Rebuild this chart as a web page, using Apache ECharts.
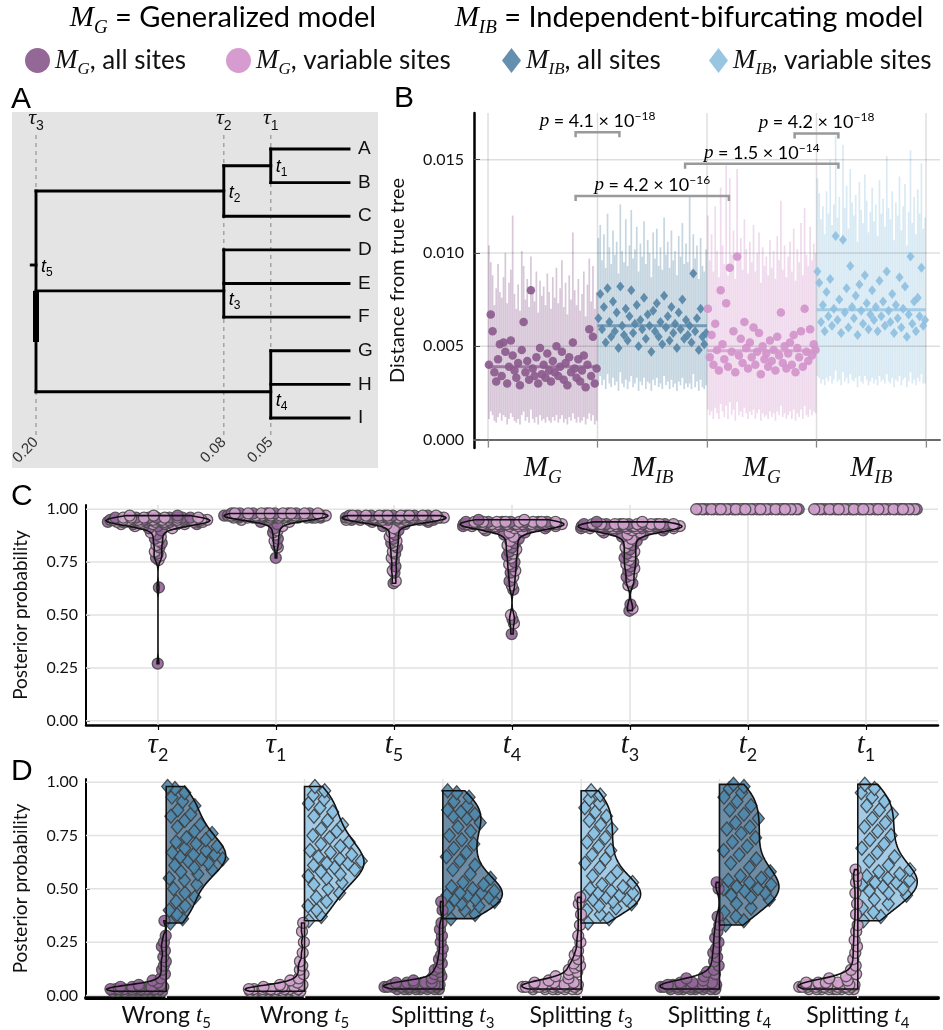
<!DOCTYPE html>
<html><head><meta charset="utf-8">
<script src="https://cdn.jsdelivr.net/npm/echarts@6.0.0/dist/echarts.min.js"></script>
<style>html,body{margin:0;padding:0;background:#fff;}#chart{width:943px;height:1030px;}</style>
</head><body><div id="chart"></div>
<script>
// ====================== DATA ======================
// ---- Panel A: tree ----
const tipNames = ['A','B','C','D','E','F','G','H','I'];
const nodeNames = ['t1','t2','t3','t4','t5'];
const nodeTimes = [0.05, 0.08, 0.08, 0.05, 0.20];
const nodeY = [0.5, 1.25, 4.22, 7.22, 3.45];
const nodeChildren = [['A','B'], ['t1','C'], ['D','E','F'], ['G','H','I'], ['t2','t3','t4']];
const tauTimes = [0.20, 0.08, 0.05];
const tauIndex = ['3','2','1'];
const rootStem = 0.003;
const rootThickSpan = [4.22, 5.74];

// ---- Panel B: distance from true tree ----
const bGroupLabels = ['G','IB','G','IB'];
const bMGAllMid = [0.0040,0.0067,0.0058,0.0036,0.0031,0.0043,0.0051,0.0034,0.0052,0.0047,0.0030,0.0039,0.0053,0.0045,0.0037,0.0033,0.0041,0.0029,0.0048,0.0063,0.0036,0.0042,0.0032,0.0080,0.0038,0.0034,0.0044,0.0030,0.0049,0.0035,0.0040,0.0033,0.0046,0.0037,0.0031,0.0042,0.0036,0.0050,0.0034,0.0039,0.0047,0.0032,0.0041,0.0029,0.0044,0.0036,0.0052,0.0038,0.0033,0.0043,0.0031,0.0037,0.0045,0.0028,0.0040,0.0059,0.0034,0.0055,0.0030,0.0038];
const bMGAllHi = [0.0104,0.0095,0.0088,0.0072,0.0081,0.0094,0.0079,0.0076,0.0087,0.0100,0.0073,0.0084,0.0091,0.0120,0.0078,0.0070,0.0083,0.0069,0.0101,0.0093,0.0075,0.0086,0.0071,0.0098,0.0080,0.0074,0.0090,0.0068,0.0085,0.0077,0.0082,0.0072,0.0089,0.0079,0.0070,0.0087,0.0076,0.0092,0.0073,0.0081,0.0096,0.0071,0.0084,0.0067,0.0088,0.0075,0.0111,0.0080,0.0072,0.0086,0.0069,0.0078,0.0090,0.0066,0.0083,0.0097,0.0074,0.0093,0.0070,0.0079];
const bMGAllLo = [0.0011,0.0015,0.0013,0.0010,0.0009,0.0012,0.0014,0.0010,0.0013,0.0012,0.0008,0.0011,0.0014,0.0012,0.0010,0.0009,0.0011,0.0008,0.0013,0.0015,0.0010,0.0012,0.0009,0.0016,0.0011,0.0009,0.0012,0.0008,0.0013,0.0010,0.0011,0.0009,0.0012,0.0010,0.0009,0.0012,0.0010,0.0013,0.0009,0.0011,0.0013,0.0009,0.0011,0.0008,0.0012,0.0010,0.0014,0.0011,0.0009,0.0012,0.0009,0.0010,0.0012,0.0008,0.0011,0.0014,0.0010,0.0013,0.0008,0.0010];
const bIBAllMid = [0.0065,0.0078,0.0059,0.0071,0.0052,0.0081,0.0063,0.0055,0.0074,0.0058,0.0068,0.0049,0.0082,0.0061,0.0056,0.0070,0.0053,0.0066,0.0080,0.0057,0.0062,0.0072,0.0050,0.0064,0.0059,0.0076,0.0054,0.0067,0.0061,0.0047,0.0069,0.0058,0.0073,0.0055,0.0063,0.0051,0.0077,0.0060,0.0066,0.0053,0.0071,0.0057,0.0062,0.0049,0.0068,0.0059,0.0075,0.0054,0.0064,0.0056,0.0061,0.0052,0.0089,0.0058,0.0065,0.0048,0.0070,0.0055,0.0051,0.0057];
const bIBAllHi = [0.0108,0.0115,0.0096,0.0110,0.0092,0.0121,0.0103,0.0094,0.0112,0.0099,0.0106,0.0089,0.0126,0.0101,0.0095,0.0118,0.0093,0.0104,0.0123,0.0097,0.0102,0.0114,0.0090,0.0105,0.0098,0.0117,0.0094,0.0107,0.0100,0.0087,0.0111,0.0097,0.0113,0.0093,0.0103,0.0091,0.0119,0.0099,0.0106,0.0092,0.0112,0.0096,0.0101,0.0088,0.0109,0.0098,0.0116,0.0094,0.0105,0.0095,0.0130,0.0091,0.0110,0.0097,0.0104,0.0086,0.0108,0.0093,0.0090,0.0102];
const bIBAllLo = [0.0031,0.0034,0.0029,0.0032,0.0027,0.0035,0.0030,0.0028,0.0033,0.0029,0.0031,0.0026,0.0036,0.0030,0.0028,0.0032,0.0027,0.0031,0.0034,0.0028,0.0030,0.0033,0.0026,0.0031,0.0029,0.0033,0.0027,0.0031,0.0030,0.0026,0.0032,0.0029,0.0033,0.0028,0.0030,0.0027,0.0034,0.0029,0.0031,0.0027,0.0032,0.0028,0.0030,0.0026,0.0031,0.0029,0.0033,0.0027,0.0030,0.0028,0.0030,0.0027,0.0035,0.0028,0.0031,0.0026,0.0032,0.0028,0.0027,0.0029];
const bMGVarMid = [0.0070,0.0044,0.0056,0.0040,0.0062,0.0048,0.0037,0.0080,0.0051,0.0043,0.0073,0.0039,0.0092,0.0047,0.0058,0.0036,0.0098,0.0045,0.0054,0.0041,0.0063,0.0049,0.0038,0.0052,0.0044,0.0060,0.0040,0.0047,0.0057,0.0035,0.0050,0.0043,0.0046,0.0039,0.0053,0.0042,0.0048,0.0037,0.0055,0.0045,0.0068,0.0041,0.0050,0.0038,0.0046,0.0052,0.0040,0.0056,0.0036,0.0049,0.0044,0.0058,0.0039,0.0070,0.0047,0.0042,0.0059,0.0045,0.0051,0.0048];
const bMGVarHi = [0.0120,0.0096,0.0110,0.0090,0.0125,0.0101,0.0087,0.0135,0.0104,0.0094,0.0147,0.0088,0.0140,0.0099,0.0112,0.0086,0.0145,0.0097,0.0108,0.0091,0.0118,0.0102,0.0089,0.0106,0.0095,0.0115,0.0090,0.0100,0.0111,0.0084,0.0103,0.0093,0.0098,0.0088,0.0107,0.0092,0.0101,0.0086,0.0109,0.0096,0.0128,0.0091,0.0104,0.0087,0.0098,0.0106,0.0090,0.0113,0.0085,0.0102,0.0095,0.0116,0.0088,0.0124,0.0099,0.0093,0.0114,0.0096,0.0105,0.0100];
const bMGVarLo = [0.0016,0.0013,0.0015,0.0011,0.0017,0.0014,0.0011,0.0019,0.0015,0.0012,0.0018,0.0011,0.0020,0.0013,0.0016,0.0010,0.0020,0.0013,0.0015,0.0012,0.0017,0.0014,0.0011,0.0015,0.0013,0.0016,0.0011,0.0014,0.0016,0.0010,0.0014,0.0012,0.0013,0.0011,0.0015,0.0012,0.0014,0.0010,0.0015,0.0013,0.0018,0.0012,0.0014,0.0011,0.0013,0.0015,0.0011,0.0016,0.0010,0.0014,0.0012,0.0016,0.0011,0.0018,0.0013,0.0012,0.0016,0.0013,0.0015,0.0014];
const bIBVarMid = [0.0090,0.0084,0.0063,0.0072,0.0058,0.0079,0.0066,0.0086,0.0061,0.0070,0.0109,0.0064,0.0075,0.0057,0.0107,0.0068,0.0081,0.0060,0.0093,0.0071,0.0065,0.0077,0.0056,0.0083,0.0069,0.0062,0.0088,0.0073,0.0059,0.0067,0.0080,0.0064,0.0071,0.0058,0.0085,0.0066,0.0074,0.0061,0.0090,0.0069,0.0063,0.0078,0.0057,0.0072,0.0065,0.0087,0.0060,0.0070,0.0082,0.0055,0.0067,0.0098,0.0062,0.0074,0.0058,0.0076,0.0066,0.0092,0.0061,0.0064];
const bIBVarHi = [0.0140,0.0132,0.0118,0.0125,0.0110,0.0133,0.0121,0.0150,0.0115,0.0126,0.0163,0.0119,0.0130,0.0108,0.0158,0.0124,0.0136,0.0113,0.0145,0.0127,0.0120,0.0131,0.0106,0.0138,0.0123,0.0116,0.0142,0.0128,0.0111,0.0122,0.0135,0.0117,0.0126,0.0109,0.0139,0.0121,0.0129,0.0114,0.0152,0.0124,0.0118,0.0133,0.0107,0.0127,0.0120,0.0141,0.0112,0.0125,0.0137,0.0104,0.0122,0.0155,0.0116,0.0130,0.0110,0.0134,0.0121,0.0148,0.0113,0.0119];
const bIBVarLo = [0.0034,0.0033,0.0030,0.0032,0.0029,0.0033,0.0031,0.0034,0.0030,0.0032,0.0037,0.0031,0.0032,0.0029,0.0036,0.0031,0.0033,0.0030,0.0035,0.0032,0.0031,0.0033,0.0028,0.0034,0.0031,0.0030,0.0034,0.0032,0.0029,0.0031,0.0033,0.0030,0.0032,0.0029,0.0034,0.0031,0.0032,0.0030,0.0035,0.0031,0.0030,0.0033,0.0028,0.0032,0.0031,0.0034,0.0029,0.0032,0.0033,0.0028,0.0031,0.0036,0.0030,0.0032,0.0029,0.0033,0.0031,0.0035,0.0030,0.0030];
const pFrom = [0, 0, 1, 2];
const pTo = [1, 2, 3, 3];
const pMant = ['4.1', '4.2', '1.5', '4.2'];
const pExp = ['\u221218', '\u221216', '\u221214', '\u221218'];
const pBracketY = [0.01647, 0.01305, 0.01478, 0.0164];

// ---- Panel C: posterior probability, M_G ----
const cSym = ['\u03c4','\u03c4','t','t','t','t','t'];
const cSub = ['2','1','5','4','3','2','1'];
const cTau2All = [0.95,0.94,0.96,0.93,0.95,0.97,0.94,0.92,0.95,0.96,0.94,0.93,0.95,0.91,0.96,0.94,0.95,0.90,0.93,0.96,0.94,0.95,0.95,0.94,0.96,0.95,0.93,0.94,0.95,0.96,0.94,0.95,0.93,0.96,0.88,0.86,0.84,0.82,0.79,0.77,0.63,0.27];
const cTau2Var = [0.95,0.96,0.94,0.95,0.93,0.97,0.95,0.94,0.96,0.92,0.95,0.94,0.96,0.93,0.95,0.97,0.94,0.91,0.95,0.96,0.93,0.94,0.95,0.95,0.94,0.96,0.95,0.93,0.94,0.95,0.96,0.94,0.95,0.93,0.89,0.87,0.85,0.83,0.80,0.78,0.76];
const cTau1All = [0.97,0.98,0.97,0.96,0.97,0.98,0.97,0.96,0.97,0.98,0.96,0.97,0.97,0.98,0.96,0.97,0.95,0.97,0.98,0.96,0.97,0.97,0.98,0.96,0.97,0.97,0.98,0.96,0.97,0.98,0.97,0.96,0.97,0.94,0.97,0.93,0.91,0.89,0.86,0.83,0.77,0.97];
const cTau1Var = [0.97,0.96,0.98,0.97,0.97,0.96,0.98,0.97,0.96,0.97,0.98,0.97,0.96,0.97,0.98,0.97,0.96,0.95,0.97,0.98,0.97,0.97,0.98,0.96,0.97,0.97,0.98,0.96,0.97,0.98,0.97,0.96,0.97,0.96,0.94,0.97,0.92,0.90,0.88,0.85,0.82,0.97];
const cT5All = [0.96,0.97,0.95,0.96,0.97,0.96,0.95,0.97,0.96,0.94,0.96,0.97,0.95,0.96,0.93,0.96,0.97,0.95,0.96,0.96,0.97,0.95,0.96,0.96,0.97,0.95,0.96,0.97,0.96,0.95,0.96,0.92,0.90,0.88,0.86,0.84,0.82,0.79,0.76,0.73,0.70,0.65];
const cT5Var = [0.96,0.95,0.97,0.96,0.96,0.97,0.95,0.96,0.94,0.97,0.96,0.95,0.96,0.97,0.93,0.96,0.95,0.97,0.96,0.94,0.96,0.97,0.95,0.96,0.96,0.97,0.95,0.96,0.97,0.96,0.95,0.96,0.91,0.89,0.87,0.85,0.83,0.80,0.77,0.71,0.66,0.96];
const cT4All = [0.93,0.92,0.94,0.93,0.91,0.94,0.93,0.92,0.95,0.93,0.90,0.94,0.92,0.93,0.89,0.94,0.92,0.93,0.94,0.92,0.93,0.94,0.93,0.92,0.94,0.93,0.91,0.93,0.94,0.88,0.86,0.84,0.82,0.80,0.78,0.75,0.73,0.70,0.66,0.62,0.48,0.41];
const cT4Var = [0.93,0.94,0.92,0.93,0.95,0.92,0.93,0.94,0.91,0.93,0.92,0.94,0.90,0.93,0.92,0.89,0.94,0.93,0.94,0.92,0.93,0.94,0.93,0.92,0.94,0.93,0.91,0.93,0.94,0.87,0.85,0.83,0.81,0.79,0.77,0.74,0.71,0.68,0.64,0.50,0.46,0.93];
const cT3All = [0.92,0.91,0.93,0.92,0.90,0.93,0.92,0.91,0.94,0.92,0.89,0.93,0.91,0.92,0.88,0.93,0.91,0.92,0.93,0.91,0.92,0.93,0.92,0.91,0.93,0.92,0.90,0.92,0.93,0.87,0.85,0.83,0.81,0.79,0.77,0.75,0.73,0.71,0.68,0.65,0.55,0.52];
const cT3Var = [0.92,0.93,0.91,0.92,0.94,0.91,0.92,0.93,0.90,0.92,0.91,0.93,0.89,0.92,0.91,0.88,0.93,0.92,0.93,0.91,0.92,0.93,0.92,0.91,0.93,0.92,0.90,0.92,0.93,0.86,0.84,0.82,0.80,0.78,0.76,0.74,0.72,0.69,0.66,0.64,0.53,0.92];
const cT2All = [1,1,1,1,1,1,1,1,1,1,1,1,1,1,1,1,1,1,1,1];
const cT2Var = [1,1,1,1,1,1,1,1,1,1,1,1,1,1,1,1,1,1,1,1];
const cT1All = [1,1,1,1,1,1,1,1,1,1,1,1,1,1,1,1,1,1,1,1];
const cT1Var = [1,1,1,1,1,1,1,1,1,1,1,1,1,1,1,1,1,1,1,1];

// ---- Panel D: posterior probability of wrong / splitting nodes ----
const dWord = ['Wrong','Wrong','Splitting','Splitting','Splitting','Splitting'];
const dSub = ['5','5','3','3','4','4'];
const dSites = ['all','var','all','var','all','var'];
const dIB1 = [0.98,0.97,0.95,0.93,0.91,0.89,0.87,0.85,0.84,0.82,0.80,0.79,0.77,0.76,0.74,0.73,0.72,0.71,0.70,0.69,0.68,0.67,0.66,0.66,0.65,0.64,0.64,0.63,0.62,0.61,0.60,0.59,0.58,0.57,0.55,0.54,0.52,0.50,0.48,0.46,0.44,0.42,0.40,0.38,0.36,0.34];
const dIB2 = [0.98,0.96,0.94,0.92,0.90,0.88,0.86,0.84,0.82,0.80,0.78,0.77,0.75,0.74,0.72,0.71,0.70,0.68,0.67,0.66,0.65,0.64,0.63,0.62,0.62,0.61,0.60,0.59,0.58,0.57,0.56,0.55,0.53,0.52,0.50,0.48,0.46,0.44,0.42,0.40,0.37,0.35];
const dIB3 = [0.96,0.95,0.93,0.91,0.89,0.87,0.86,0.85,0.84,0.83,0.81,0.79,0.77,0.75,0.73,0.71,0.69,0.67,0.65,0.63,0.61,0.59,0.57,0.55,0.53,0.52,0.51,0.50,0.49,0.48,0.48,0.47,0.47,0.46,0.45,0.45,0.44,0.43,0.42,0.41,0.40,0.38,0.36];
const dIB4 = [0.96,0.94,0.92,0.90,0.88,0.86,0.84,0.82,0.80,0.78,0.76,0.74,0.72,0.70,0.68,0.66,0.64,0.62,0.60,0.58,0.56,0.55,0.53,0.52,0.51,0.50,0.49,0.48,0.48,0.47,0.47,0.46,0.45,0.45,0.44,0.43,0.42,0.41,0.40,0.38,0.36,0.34];
const dIB5 = [0.99,0.98,0.97,0.95,0.93,0.91,0.89,0.87,0.85,0.83,0.81,0.79,0.78,0.76,0.74,0.72,0.70,0.68,0.66,0.64,0.62,0.60,0.58,0.56,0.55,0.54,0.53,0.52,0.51,0.50,0.50,0.49,0.48,0.47,0.46,0.45,0.43,0.41,0.39,0.37,0.35,0.33];
const dIB6 = [0.99,0.97,0.95,0.93,0.91,0.89,0.87,0.85,0.83,0.81,0.79,0.77,0.75,0.73,0.71,0.69,0.67,0.65,0.63,0.61,0.59,0.58,0.57,0.56,0.55,0.54,0.53,0.53,0.52,0.51,0.50,0.49,0.48,0.47,0.45,0.43,0.41,0.39,0.37,0.35];
const dG1 = [0.02,0.03,0.02,0.03,0.02,0.04,0.03,0.02,0.03,0.02,0.03,0.04,0.02,0.03,0.02,0.03,0.02,0.04,0.03,0.02,0.03,0.02,0.05,0.03,0.04,0.02,0.03,0.05,0.04,0.06,0.07,0.08,0.10,0.12,0.14,0.16,0.18,0.21,0.23,0.25,0.28,0.35];
const dG2 = [0.02,0.03,0.02,0.02,0.03,0.02,0.04,0.03,0.02,0.03,0.02,0.03,0.02,0.04,0.03,0.02,0.03,0.02,0.03,0.05,0.02,0.04,0.03,0.05,0.06,0.07,0.08,0.10,0.12,0.14,0.16,0.20,0.25,0.30,0.34];
const dG3 = [0.04,0.03,0.05,0.04,0.03,0.05,0.04,0.06,0.03,0.04,0.05,0.04,0.03,0.06,0.04,0.05,0.03,0.04,0.07,0.05,0.04,0.06,0.03,0.05,0.08,0.04,0.06,0.09,0.10,0.11,0.12,0.13,0.15,0.17,0.19,0.22,0.25,0.28,0.31,0.34,0.40,0.44,0.04,0.05,0.03,0.04,0.06,0.05,0.04,0.03];
const dG4 = [0.04,0.03,0.05,0.04,0.03,0.04,0.05,0.03,0.04,0.06,0.04,0.03,0.05,0.04,0.07,0.03,0.05,0.04,0.06,0.08,0.05,0.09,0.04,0.10,0.12,0.11,0.13,0.14,0.15,0.17,0.19,0.21,0.25,0.28,0.33,0.38,0.43,0.46,0.04,0.05,0.03,0.04,0.06,0.05,0.04,0.03];
const dG5 = [0.03,0.04,0.03,0.05,0.04,0.03,0.04,0.05,0.03,0.04,0.06,0.03,0.04,0.05,0.04,0.03,0.06,0.04,0.05,0.07,0.04,0.08,0.05,0.09,0.10,0.11,0.12,0.14,0.16,0.18,0.20,0.22,0.25,0.27,0.30,0.33,0.37,0.50,0.53,0.03,0.04,0.05,0.04,0.03,0.05,0.04,0.06];
const dG6 = [0.03,0.04,0.03,0.05,0.04,0.03,0.04,0.05,0.03,0.06,0.04,0.05,0.04,0.03,0.05,0.04,0.06,0.03,0.05,0.07,0.04,0.08,0.05,0.09,0.06,0.10,0.12,0.14,0.17,0.20,0.23,0.26,0.30,0.33,0.38,0.43,0.48,0.53,0.56,0.59,0.04,0.03,0.05,0.04,0.03,0.05,0.04,0.06,0.03,0.04];

// ---- Tick values ----
const bYTicks = [0, 0.005, 0.010, 0.015];
const probTicks = [0, 0.25, 0.5, 0.75, 1];

// ====================== STYLE ======================
const FONT = "Lato, 'Noto Sans', sans-serif";
const HELV = "'Liberation Sans', Arial, sans-serif";
const MATH = "'Liberation Serif', 'DejaVu Serif', serif";
const COL = { mgAll: '#8b5b8d', mgVar: '#d394cb', ibAll: '#5786a7', ibVar: '#8fc0df' };
const PT = { purple: '#93649a', pink: '#d4a2cf', blueDark: '#4c87ac', blueLight: '#88c0e2' };
const VFILL = { all: '#6d8ca6', var: '#a3cbe6' };
const legendNames = ['MG, all sites', 'MG, variable sites', 'MIB, all sites', 'MIB, variable sites'];
const legendRich = ['{m|M}{s|G}{t|, all sites}', '{m|M}{s|G}{t|, variable sites}', '{m|M}{s|IB}{t|, all sites}', '{m|M}{s|IB}{t|, variable sites}'];

function mrich(size, o) {
  o = o || {};
  const color = o.color || '#111';
  const lh = Math.round(size * 1.3);
  const ss = Math.round(size * (o.subScale || 0.64));
  const font = o.font || FONT;
  return {
    m: { fontFamily: o.mathFont || MATH, fontStyle: 'italic', fontSize: size, lineHeight: lh, color, verticalAlign: 'middle' },
    s: { fontFamily: o.mathFont || MATH, fontStyle: 'italic', fontSize: ss, lineHeight: ss, color, verticalAlign: 'bottom' },
    d: { fontFamily: font, fontSize: ss, lineHeight: ss, color, verticalAlign: 'bottom' },
    t: { fontFamily: font, fontSize: o.textSize || size, lineHeight: lh, color, verticalAlign: 'middle' },
    u: { fontFamily: font, fontSize: ss, lineHeight: ss, color, verticalAlign: 'top' }
  };
}

// ====================== HELPERS ======================
const GOLD = 0.6180339887;
const frac = x => x - Math.floor(x);
function quantile(s, q) { const p = (s.length - 1) * q; const i = Math.floor(p); return s[i] + (s[Math.min(i + 1, s.length - 1)] - s[i]) * (p - i); }
function silverman(v) {
  const n = v.length, mean = v.reduce((a, b) => a + b, 0) / n;
  const sd = Math.sqrt(v.reduce((a, b) => a + (b - mean) * (b - mean), 0) / Math.max(1, n - 1));
  const s = v.slice().sort((a, b) => a - b);
  let a = Math.min(sd, (quantile(s, 0.75) - quantile(s, 0.25)) / 1.34);
  if (!(a > 0)) a = sd;
  return 0.9 * a * Math.pow(n, -0.2);
}
function kde(v, bw, y) { let s = 0; for (const x of v) { const z = (y - x) / bw; s += Math.exp(-0.5 * z * z); } return s; }
function profile(vals, W, minBw) {
  const lo = Math.min(...vals), hi = Math.max(...vals);
  if (hi - lo < 1e-9) return { flat: true, lo, hi, width: () => W };
  const bw = Math.max(silverman(vals), minBw);
  const ys = [], ds = [];
  const N = 120;
  for (let i = 0; i <= N; i++) { const y = lo + (hi - lo) * i / N; ys.push(y); ds.push(kde(vals, bw, y)); }
  let dmax = Math.max(...ds);
  vals.forEach(v => { dmax = Math.max(dmax, kde(vals, bw, v)); });
  return { flat: false, lo, hi, ys, ws: ds.map(d => W * d / dmax), width: y => W * kde(vals, bw, y) / dmax };
}
function median(a) { const s = a.slice().sort((x, y) => x - y); const n = s.length; return n % 2 ? s[(n - 1) / 2] : (s[n / 2 - 1] + s[n / 2]) / 2; }

// axis indices
const XA = 0, XAT = 1, XB = 2, XC = 3, XD = 4;
const YA = 0, YB = 1, YC = 2, YD = 3;

function gridLines(xi, yi, xs, ys, refX, refY, color, width, z) {
  const data = xs.map(v => [v, refY, 0]).concat(ys.map(v => [refX, v, 1]));
  return {
    type: 'custom', xAxisIndex: xi, yAxisIndex: yi, silent: true, z, data,
    renderItem(params, api) {
      const cs = params.coordSys;
      const p = api.coord([api.value(0), api.value(1)]);
      const vert = api.value(2) === 0;
      return { type: 'line', shape: vert ? { x1: p[0], y1: cs.y, x2: p[0], y2: cs.y + cs.height } : { x1: cs.x, y1: p[1], x2: cs.x + cs.width, y2: p[1] },
        style: { stroke: color, lineWidth: width } };
    }
  };
}

// ====================== PANEL A ======================
function yOf(name) { const i = tipNames.indexOf(name); return i >= 0 ? i : nodeY[nodeNames.indexOf(name)]; }
function timeOf(name) { const i = nodeNames.indexOf(name); return i >= 0 ? nodeTimes[i] : 0; }
const childSet = new Set([].concat(...nodeChildren));
const rootIdx = nodeNames.findIndex(n => !childSet.has(n));
const segs = [];
nodeNames.forEach((n, i) => {
  const t = nodeTimes[i];
  const cys = nodeChildren[i].map(yOf);
  segs.push([t, Math.min(...cys), t, Math.max(...cys), 0]);
  nodeChildren[i].forEach(c => segs.push([t, yOf(c), timeOf(c), yOf(c), 0]));
});
segs.push([nodeTimes[rootIdx] + rootStem, nodeY[rootIdx], nodeTimes[rootIdx], nodeY[rootIdx], 0]);
segs.push([nodeTimes[rootIdx], rootThickSpan[0], nodeTimes[rootIdx], rootThickSpan[1], 1]);
const nodeLabelDy = { t1: 1, t2: 2, t3: 9, t4: 9, t5: 2 };
const tRich = mrich(18, { mathFont: HELV, font: HELV, subScale: 0.68 });

// ====================== PANEL B ======================
const bMid = [bMGAllMid, bIBAllMid, bMGVarMid, bIBVarMid];
const bLo = [bMGAllLo, bIBAllLo, bMGVarLo, bIBVarLo];
const bHi = [bMGAllHi, bIBAllHi, bMGVarHi, bIBVarHi];
const bCol = [COL.mgAll, COL.ibAll, COL.mgVar, COL.ibVar];
const bSym = ['circle', 'diamond', 'circle', 'diamond'];
const bLegendIdx = [0, 2, 1, 3];
const bSeries = [];
for (let g = 0; g < 4; g++) {
  const n = bMid[g].length;
  const xs = bMid[g].map((_, j) => g + (j + 0.5) / n);
  bSeries.push({
    type: 'custom', xAxisIndex: XB, yAxisIndex: YB, silent: true, z: 2,
    data: xs.map((x, j) => [x, bLo[g][j], bHi[g][j]]),
    renderItem(params, api) {
      const a = api.coord([api.value(0), api.value(1)]), b = api.coord([api.value(0), api.value(2)]);
      return { type: 'line', shape: { x1: a[0], y1: a[1], x2: b[0], y2: b[1] }, style: { stroke: bCol[g], lineWidth: 1.7, opacity: 0.34 } };
    }
  });
  bSeries.push({
    type: 'custom', xAxisIndex: XB, yAxisIndex: YB, silent: true, z: 4,
    data: [[g, g + 1, median(bMid[g])]],
    renderItem(params, api) {
      const a = api.coord([api.value(0), api.value(2)]), b = api.coord([api.value(1), api.value(2)]);
      return { type: 'line', shape: { x1: a[0], y1: a[1], x2: b[0], y2: b[1] }, style: { stroke: bCol[g], lineWidth: 3, opacity: 0.75 } };
    }
  });
  bSeries.push({
    type: 'scatter', name: legendNames[bLegendIdx[g]], xAxisIndex: XB, yAxisIndex: YB, z: 5,
    symbol: bSym[g], symbolSize: bSym[g] === 'circle' ? 8.5 : [8, 10],
    itemStyle: { color: bCol[g], opacity: 0.92 },
    data: xs.map((x, j) => [x, bMid[g][j]])
  });
}
const pRich = { p: { fontFamily: MATH, fontStyle: 'italic', fontSize: 19, lineHeight: 22, color: '#111', verticalAlign: 'middle' },
  t: { fontFamily: FONT, fontSize: 18, lineHeight: 22, color: '#111', verticalAlign: 'middle' },
  u: { fontFamily: FONT, fontSize: 12, lineHeight: 12, color: '#111', verticalAlign: 'top' } };
bSeries.push({
  type: 'custom', xAxisIndex: XB, yAxisIndex: YB, silent: true, z: 6,
  data: pFrom.map((f, i) => [f + 0.8, pTo[i] + 0.2, pBracketY[i]]),
  renderItem(params, api) {
    const i = params.dataIndex;
    const a = api.coord([api.value(0), api.value(2)]), b = api.coord([api.value(1), api.value(2)]);
    return { type: 'group', children: [
      { type: 'polyline', shape: { points: [[a[0], a[1] + 5], a, b, [b[0], b[1] + 5]] }, style: { stroke: '#9a9a9a', lineWidth: 2.5, fill: 'none' } },
      { type: 'text', x: (a[0] + b[0]) / 2, y: a[1] - 11, style: { text: '{p|p}{t| = ' + pMant[i] + ' \u00d7 10}{u|' + pExp[i] + '}', rich: pRich, align: 'center', verticalAlign: 'middle' } }
    ] };
  }
});

// ====================== PANEL C ======================
const cAll = [cTau2All, cTau1All, cT5All, cT4All, cT3All, cT2All, cT1All];
const cVar = [cTau2Var, cTau1Var, cT5Var, cT4Var, cT3Var, cT2Var, cT1Var];
const W_C = 0.44;
const cProf = [], cPts = [];
cAll.forEach((arr, k) => {
  const items = arr.map(v => ({ v, c: 0 })).concat(cVar[k].map(v => ({ v, c: 1 })));
  const pr = profile(items.map(o => o.v), W_C, 0.02);
  cProf.push(pr);
  items.sort((a, b) => a.v - b.v).forEach((o, r) => {
    const s = 2 * frac(r * GOLD + 0.37) - 1;
    cPts.push({ value: [k + 1 + pr.width(o.v) * s, o.v], itemStyle: { color: o.c ? PT.pink : PT.purple } });
  });
});
function violinPoly(api, c, pr, side) {
  const pts = [];
  if (side === 0) {
    for (let i = 0; i < pr.ys.length; i++) pts.push(api.coord([c + pr.ws[i], pr.ys[i]]));
    for (let i = pr.ys.length - 1; i >= 0; i--) pts.push(api.coord([c - pr.ws[i], pr.ys[i]]));
  } else {
    pts.push(api.coord([c, pr.lo]));
    for (let i = 0; i < pr.ys.length; i++) pts.push(api.coord([c + side * pr.ws[i], pr.ys[i]]));
    pts.push(api.coord([c, pr.hi]));
  }
  return pts;
}

// ====================== PANEL D ======================
const dIB = [dIB1, dIB2, dIB3, dIB4, dIB5, dIB6];
const dG = [dG1, dG2, dG3, dG4, dG5, dG6];
const W_D = 0.43;
const dProfIB = [], dProfG = [], dPtsIB = [], dPtsG = [];
dIB.forEach((arr, k) => {
  const c = k + 1;
  const prI = profile(arr, W_D, 0.02); dProfIB.push(prI);
  arr.slice().sort((a, b) => a - b).forEach((v, r) => {
    const s = 0.06 + 0.94 * frac(r * GOLD + 0.21);
    dPtsIB.push({ value: [c + prI.width(v) * s, v], itemStyle: { color: dSites[k] === 'all' ? PT.blueDark : PT.blueLight } });
  });
  const prG = profile(dG[k], W_D, 0.01); dProfG.push(prG);
  dG[k].slice().sort((a, b) => a - b).forEach((v, r) => {
    const s = 0.03 + 0.97 * frac(r * GOLD + 0.43);
    dPtsG.push({ value: [c - prG.width(v) * s, v], itemStyle: { color: dSites[k] === 'all' ? PT.purple : PT.pink } });
  });
});

// ====================== OPTION ======================
const axisFont = { fontFamily: FONT, fontSize: 16, color: '#111' };
const bxRich = mrich(29, {});
const cxRich = mrich(29, { subScale: 0.62 });
const dxRich = mrich(23, { textSize: 23, subScale: 0.66 });
const legendRichStyle = mrich(27, { textSize: 26 });
const headRich = mrich(29, { textSize: 29 });

const option = {
  animation: false,
  backgroundColor: '#fff',
  grid: [
    { left: 36, top: 135, width: 313, height: 300, outerBoundsMode: 'none' },
    { left: 474, top: 113, width: 466, height: 335, outerBoundsMode: 'none' },
    { left: 86, top: 505, width: 852, height: 220, outerBoundsMode: 'none' },
    { left: 86, top: 779, width: 852, height: 219, outerBoundsMode: 'none' }
  ],
  xAxis: [
    { gridIndex: 0, type: 'value', min: 0, max: 0.2, inverse: true, position: 'bottom',
      axisLine: { show: false, onZero: false }, axisTick: { show: false }, splitLine: { show: false },
      axisLabel: { customValues: tauTimes, formatter: v => v.toFixed(2), rotate: 45, margin: 5, fontFamily: HELV, fontSize: 15, color: '#333' } },
    { gridIndex: 0, type: 'value', min: 0, max: 0.2, inverse: true, position: 'top',
      axisLine: { show: false, onZero: false }, axisTick: { show: false }, splitLine: { show: false },
      axisLabel: { customValues: tauTimes, margin: 2, rich: mrich(22, { subScale: 0.62, font: HELV }),
        formatter: v => { let bi = 0; tauTimes.forEach((t, i) => { if (Math.abs(t - v) < Math.abs(tauTimes[bi] - v)) bi = i; }); return '{m|\u03c4}{d|' + tauIndex[bi] + '}'; } } },
    { gridIndex: 1, type: 'value', min: -0.128, max: 4.128,
      axisLine: { onZero: true, lineStyle: { color: '#6a6a6a', width: 2 } },
      axisTick: { customValues: [0, 1, 2, 3, 4], length: 8, lineStyle: { color: '#999', width: 1.2 } },
      splitLine: { show: false },
      axisLabel: { customValues: [0.5, 1.5, 2.5, 3.5], margin: 1, rich: bxRich, formatter: v => '{m|M}{s|' + bGroupLabels[Math.floor(v)] + '}' } },
    { gridIndex: 2, type: 'value', min: 0.39, max: 7.61,
      axisLine: { onZero: false, lineStyle: { color: '#000', width: 2.5 } },
      axisTick: { customValues: [1, 2, 3, 4, 5, 6, 7], length: 5, lineStyle: { color: '#000', width: 1.2 } },
      splitLine: { show: false },
      axisLabel: { customValues: [1, 2, 3, 4, 5, 6, 7], margin: 1, rich: cxRich, formatter: v => { const i = Math.round(v) - 1; return '{m|' + cSym[i] + '}{d|' + cSub[i] + '}'; } } },
    { gridIndex: 3, type: 'value', min: 0.42, max: 6.58,
      axisLine: { onZero: false, lineStyle: { color: '#000', width: 4 } },
      axisTick: { show: false },
      splitLine: { show: false },
      axisLabel: { customValues: [1, 2, 3, 4, 5, 6], margin: 3, rich: dxRich, formatter: v => { const i = Math.round(v) - 1; return '{t|' + dWord[i] + ' }{m|t}{d|' + dSub[i] + '}'; } } }
  ],
  yAxis: [
    { gridIndex: 0, type: 'value', min: -0.416, max: 8.505, inverse: true, position: 'right',
      axisLine: { show: false, onZero: false }, axisTick: { show: false }, splitLine: { show: false },
      axisLabel: { customValues: tipNames.map((_, i) => i), formatter: v => tipNames[Math.round(v)], margin: 9, fontFamily: HELV, fontSize: 19, color: '#111' } },
    { gridIndex: 1, type: 'value', min: -0.00046, max: 0.0175,
      axisLine: { onZero: false, lineStyle: { color: '#000', width: 2.5 } },
      axisTick: { customValues: bYTicks, inside: true, length: 6, lineStyle: { color: '#555' } },
      splitLine: { show: false },
      axisLabel: Object.assign({ customValues: bYTicks, formatter: v => v.toFixed(3), margin: 10 }, axisFont),
      name: 'Distance from true tree', nameLocation: 'middle', nameGap: 66,
      nameTextStyle: { fontFamily: FONT, fontSize: 20, color: '#111' } },
    { gridIndex: 2, type: 'value', min: -0.02, max: 1.02,
      axisLine: { onZero: false, lineStyle: { color: '#000', width: 2 } },
      axisTick: { customValues: probTicks, inside: true, length: 4, lineStyle: { color: '#333' } },
      splitLine: { show: false },
      axisLabel: Object.assign({ customValues: probTicks, formatter: v => v.toFixed(2), margin: 8 }, axisFont),
      name: 'Posterior probability', nameLocation: 'middle', nameGap: 56,
      nameTextStyle: { fontFamily: FONT, fontSize: 19, color: '#111' } },
    { gridIndex: 3, type: 'value', min: -0.012, max: 1.015,
      axisLine: { onZero: false, lineStyle: { color: '#000', width: 2 } },
      axisTick: { customValues: probTicks, inside: true, length: 4, lineStyle: { color: '#333' } },
      splitLine: { show: false },
      axisLabel: Object.assign({ customValues: probTicks, formatter: v => v.toFixed(2), margin: 8 }, axisFont),
      name: 'Posterior probability', nameLocation: 'middle', nameGap: 56,
      nameTextStyle: { fontFamily: FONT, fontSize: 19, color: '#111' } }
  ],
  legend: legendNames.map((nm, i) => ({
    data: [{ name: nm, icon: i < 2 ? 'circle' : 'diamond' }],
    left: [20, 221, 497, 704][i], top: 42,
    itemWidth: i < 2 ? 25 : 19, itemHeight: 25, itemGap: 0, selectedMode: false,
    formatter: () => legendRich[i],
    textStyle: { rich: legendRichStyle }
  })),
  graphic: { elements: [
    { type: 'rect', shape: { x: 12, y: 112, width: 366, height: 356 }, style: { fill: '#e4e4e4' }, z: -10, silent: true },
    { type: 'text', x: 223, y: 18, style: { text: '{m|M}{s|G}{t| = Generalized model}', rich: headRich, align: 'center', verticalAlign: 'middle' } },
    { type: 'text', x: 689, y: 18, style: { text: '{m|M}{s|IB}{t| = Independent-bifurcating model}', rich: headRich, align: 'center', verticalAlign: 'middle' } },
    { type: 'text', x: 11, y: 100, style: { text: 'A', fontFamily: HELV, fontSize: 30, fill: '#000', align: 'left', verticalAlign: 'middle' } },
    { type: 'text', x: 394, y: 99, style: { text: 'B', fontFamily: HELV, fontSize: 30, fill: '#000', align: 'left', verticalAlign: 'middle' } },
    { type: 'text', x: 11, y: 497, style: { text: 'C', fontFamily: HELV, fontSize: 30, fill: '#000', align: 'left', verticalAlign: 'middle' } },
    { type: 'text', x: 11, y: 772, style: { text: 'D', fontFamily: HELV, fontSize: 30, fill: '#000', align: 'left', verticalAlign: 'middle' } }
  ] },
  series: [
    // ---- A ----
    { type: 'custom', xAxisIndex: XA, yAxisIndex: YA, silent: true, z: 2,
      data: tauTimes.map(t => [t, 0]),
      renderItem(params, api) {
        const cs = params.coordSys; const p = api.coord([api.value(0), api.value(1)]);
        return { type: 'line', shape: { x1: p[0], y1: cs.y, x2: p[0], y2: cs.y + cs.height }, style: { stroke: '#9a9a9a', lineWidth: 1.3, lineDash: [4, 4] } };
      } },
    { type: 'custom', xAxisIndex: XA, yAxisIndex: YA, silent: true, z: 3,
      data: segs,
      renderItem(params, api) {
        const a = api.coord([api.value(0), api.value(1)]), b = api.coord([api.value(2), api.value(3)]);
        const thick = api.value(4) === 1;
        return { type: 'line', shape: { x1: a[0], y1: a[1], x2: b[0], y2: b[1] }, style: { stroke: '#000', lineWidth: thick ? 6 : 2.9, lineCap: thick ? 'butt' : 'square' } };
      } },
    { type: 'custom', xAxisIndex: XA, yAxisIndex: YA, silent: true, z: 4,
      data: nodeNames.map((n, i) => [nodeTimes[i], nodeY[i]]),
      renderItem(params, api) {
        const n = nodeNames[params.dataIndex];
        const p = api.coord([api.value(0), api.value(1)]);
        return { type: 'text', x: p[0] + 5, y: p[1] + nodeLabelDy[n], style: { text: '{m|t}{d|' + n.slice(1) + '}', rich: tRich, align: 'left', verticalAlign: 'middle' } };
      } },
    // ---- B ----
    gridLines(XB, YB, [0, 1, 2, 3, 4], [0.005, 0.010, 0.015], 0, 0.005, 'rgba(0,0,0,0.13)', 1.5, 3),
    ...bSeries,
    // ---- C ----
    gridLines(XC, YC, [1, 2, 3, 4, 5, 6, 7], probTicks, 1, 0.5, '#e2e2e2', 1.5, 1),
    { type: 'scatter', xAxisIndex: XC, yAxisIndex: YC, z: 4, symbol: 'circle', symbolSize: 11,
      itemStyle: { opacity: 0.9, borderColor: '#4a4a4a', borderWidth: 1.3 }, data: cPts },
    { type: 'custom', xAxisIndex: XC, yAxisIndex: YC, silent: true, z: 5,
      data: cProf.map((_, k) => [k + 1, 0.5]),
      renderItem(params, api) {
        const k = params.dataIndex; const pr = cProf[k];
        if (pr.flat) return { type: 'group', children: [] };
        return { type: 'polygon', shape: { points: violinPoly(api, k + 1, pr, 0) }, style: { fill: 'none', stroke: '#111', lineWidth: 1.6 } };
      } },
    // ---- D ----
    gridLines(XD, YD, [1, 2, 3, 4, 5, 6], probTicks, 1, 0.5, '#e2e2e2', 1.5, 1),
    { type: 'custom', xAxisIndex: XD, yAxisIndex: YD, silent: true, z: 2,
      data: dProfIB.map((_, k) => [k + 1, 0.5]),
      renderItem(params, api) {
        const k = params.dataIndex;
        return { type: 'polygon', shape: { points: violinPoly(api, k + 1, dProfIB[k], 1) }, style: { fill: VFILL[dSites[k]], stroke: 'none' } };
      } },
    { type: 'scatter', xAxisIndex: XD, yAxisIndex: YD, z: 4, symbol: 'diamond', symbolSize: [12, 14],
      itemStyle: { opacity: 0.9, borderColor: '#3e3e3e', borderWidth: 1.3 }, data: dPtsIB },
    { type: 'scatter', xAxisIndex: XD, yAxisIndex: YD, z: 4, symbol: 'circle', symbolSize: 11,
      itemStyle: { opacity: 0.9, borderColor: '#4a4a4a', borderWidth: 1.3 }, data: dPtsG },
    { type: 'custom', xAxisIndex: XD, yAxisIndex: YD, silent: true, z: 5,
      data: dProfIB.map((_, k) => [k + 1, 0.5]),
      renderItem(params, api) {
        const k = params.dataIndex;
        return { type: 'group', children: [
          { type: 'polygon', shape: { points: violinPoly(api, k + 1, dProfIB[k], 1) }, style: { fill: 'none', stroke: '#111', lineWidth: 1.6 } },
          { type: 'polygon', shape: { points: violinPoly(api, k + 1, dProfG[k], -1) }, style: { fill: 'none', stroke: '#111', lineWidth: 1.6 } }
        ] };
      } }
  ]
};

const chart = echarts.init(document.getElementById('chart'), null, { renderer: 'canvas', width: 943, height: 1030 });
chart.setOption(option);
</script></body></html>
